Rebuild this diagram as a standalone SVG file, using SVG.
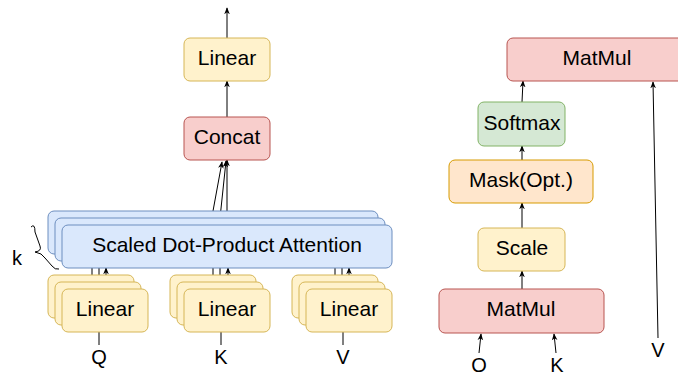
<svg xmlns="http://www.w3.org/2000/svg" width="678" height="372" viewBox="0 0 678 372">
  <defs>
    <marker id="arrow" viewBox="0 0 10 10" refX="9" refY="5" markerWidth="7" markerHeight="7" markerUnits="userSpaceOnUse" orient="auto">
      <path d="M0,1 L10,5 L0,9 L3,5 Z" fill="#000"/>
    </marker>
  </defs>
  <style>
    .box { stroke-width: 1; }
    .yellow { fill: #fff2cc; stroke: #d6b656; }
    .red { fill: #f8cecc; stroke: #b85450; }
    .blue { fill: #dae8fc; stroke: #6c8ebf; }
    .green { fill: #d5e8d4; stroke: #82b366; }
    .orange { fill: #ffe6cc; stroke: #d79b00; }
    .lbl { font-family: "Liberation Sans", Arial, sans-serif; font-size: 21px; fill: #000; text-anchor: middle; }
    .io { font-family: "Liberation Sans", Arial, sans-serif; font-size: 20px; fill: #000; text-anchor: middle; }
    .edge { stroke: #000; stroke-width: 1; fill: none; }
    .arr { marker-end: url(#arrow); }
  </style>

  <!-- connectors -->
  <g id="connectors">
    <!-- multi-head side -->
    <line class="edge arr" x1="227" y1="38" x2="227" y2="8"/>
    <line class="edge arr" x1="227" y1="117" x2="227" y2="81"/>
    <line class="edge arr" x1="213" y1="211" x2="222" y2="162"/>
    <line class="edge arr" x1="220" y1="218" x2="226" y2="161"/>
    <line class="edge arr" x1="227" y1="225" x2="227" y2="160"/>
    <!-- Q linear stack to attention -->
    <line class="edge" x1="92" y1="275" x2="92" y2="268"/>
    <line class="edge" x1="99" y1="282" x2="99" y2="268"/>
    <line class="edge arr" x1="106" y1="289" x2="106" y2="268"/>
    <!-- K linear stack to attention -->
    <line class="edge" x1="213" y1="275" x2="213" y2="268"/>
    <line class="edge" x1="220" y1="282" x2="220" y2="268"/>
    <line class="edge arr" x1="228" y1="289" x2="228" y2="268"/>
    <!-- V linear stack to attention -->
    <line class="edge" x1="335" y1="275" x2="335" y2="268"/>
    <line class="edge" x1="342" y1="282" x2="342" y2="268"/>
    <line class="edge arr" x1="349" y1="289" x2="349" y2="268"/>
    <!-- inputs into linear stacks -->
    <line class="edge" x1="99" y1="332" x2="99" y2="345"/>
    <line class="edge" x1="221" y1="332" x2="221" y2="345"/>
    <line class="edge" x1="343" y1="332" x2="343" y2="345"/>
    <!-- attention detail side -->
    <line class="edge arr" x1="522" y1="102" x2="523" y2="81"/>
    <line class="edge arr" x1="522" y1="160" x2="522" y2="146"/>
    <line class="edge arr" x1="522" y1="228" x2="522" y2="203"/>
    <line class="edge arr" x1="522" y1="289" x2="522" y2="271"/>
    <line class="edge arr" x1="479" y1="353" x2="481" y2="334"/>
    <line class="edge arr" x1="556" y1="353" x2="554" y2="334"/>
    <line class="edge arr" x1="658" y1="338" x2="653" y2="82"/>
    <!-- head-count brace -->
    <path class="edge" stroke="#333" d="M31,227 Q35,223 35,232 L40,246 Q42,251 35,252 Q42,253 45,258 L52,266 Q55,270 59,269"/>
  </g>

  <!-- multi-head attention -->
  <g id="linear-out">
    <rect class="box yellow" x="184" y="38" width="86" height="43" rx="6"/>
    <text class="lbl" x="227" y="65">Linear</text>
  </g>
  <g id="concat">
    <rect class="box red" x="184" y="117" width="86" height="43" rx="6"/>
    <text class="lbl" x="227" y="144">Concat</text>
  </g>
  <g id="attention">
    <rect class="box blue" x="48" y="211" width="330" height="43" rx="6"/>
    <rect class="box blue" x="55" y="218" width="330" height="43" rx="6"/>
    <rect class="box blue" x="62" y="225" width="330" height="43" rx="6"/>
    <text class="lbl" x="227" y="252">Scaled Dot-Product Attention</text>
  </g>
  <g id="linear-q">
    <rect class="box yellow" x="48" y="275" width="86" height="43" rx="6"/>
    <rect class="box yellow" x="55" y="282" width="86" height="43" rx="6"/>
    <rect class="box yellow" x="62" y="289" width="86" height="43" rx="6"/>
    <text class="lbl" x="105" y="316">Linear</text>
  </g>
  <g id="linear-k">
    <rect class="box yellow" x="170" y="275" width="86" height="43" rx="6"/>
    <rect class="box yellow" x="177" y="282" width="86" height="43" rx="6"/>
    <rect class="box yellow" x="184" y="289" width="86" height="43" rx="6"/>
    <text class="lbl" x="227" y="316">Linear</text>
  </g>
  <g id="linear-v">
    <rect class="box yellow" x="292" y="275" width="86" height="43" rx="6"/>
    <rect class="box yellow" x="299" y="282" width="86" height="43" rx="6"/>
    <rect class="box yellow" x="306" y="289" width="86" height="43" rx="6"/>
    <text class="lbl" x="349" y="316">Linear</text>
  </g>
  <g id="inputs-left">
    <text class="io" x="99" y="364">Q</text>
    <text class="io" x="221" y="364">K</text>
    <text class="io" x="343" y="364">V</text>
    <text class="io" x="17" y="265">k</text>
  </g>

  <!-- scaled dot-product attention -->
  <g id="matmul-out">
    <rect class="box red" x="507" y="38" width="190" height="43" rx="6"/>
    <text class="lbl" x="597" y="65">MatMul</text>
  </g>
  <g id="softmax">
    <rect class="box green" x="478" y="102" width="87" height="44" rx="6"/>
    <text class="lbl" x="522" y="130">Softmax</text>
  </g>
  <g id="mask">
    <rect class="box orange" x="449" y="160" width="144" height="43" rx="6"/>
    <text class="lbl" x="521" y="187">Mask(Opt.)</text>
  </g>
  <g id="scale">
    <rect class="box yellow" x="478" y="228" width="87" height="43" rx="6"/>
    <text class="lbl" x="522" y="255">Scale</text>
  </g>
  <g id="matmul-in">
    <rect class="box red" x="439" y="289" width="165" height="44" rx="6"/>
    <text class="lbl" x="521" y="316">MatMul</text>
  </g>
  <g id="inputs-right">
    <text class="io" x="479" y="372">Q</text>
    <text class="io" x="557" y="372">K</text>
    <text class="io" x="658" y="357">V</text>
  </g>
</svg>
